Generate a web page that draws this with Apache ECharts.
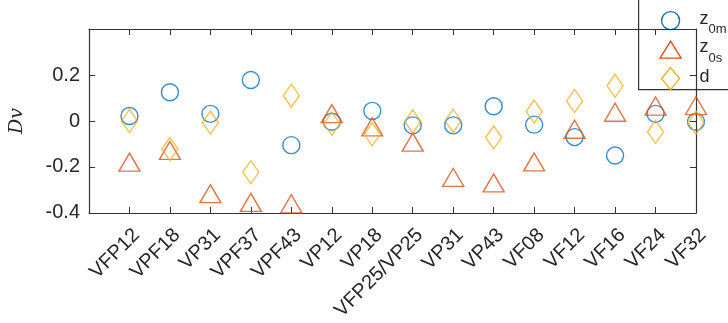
<!DOCTYPE html>
<html>
<head>
<meta charset="utf-8">
<script src="https://cdn.jsdelivr.net/npm/echarts@6/dist/echarts.min.js"></script>
<style>
  html, body { margin: 0; padding: 0; background: #fff; }
  #chart { width: 728px; height: 323px; }
</style>
</head>
<body>
<div id="chart"></div>
<script>
// Station / profile labels along the x axis (positions 1..15)
const categories = ['VFP12', 'VPF18', 'VP31', 'VPF37', 'VPF43', 'VP12', 'VP18',
  'VFP25/VP25', 'VP31', 'VP43', 'VF08', 'VF12', 'VF16', 'VF24', 'VF32'];

// Dv for each parameter
const z0m = [0.022, 0.125, 0.031, 0.178, -0.105, -0.003, 0.044, -0.019, -0.019,
  0.064, -0.016, -0.070, -0.150, 0.031, -0.003];
const z0s = [-0.179, -0.128, -0.316, -0.354, -0.360, 0.032, -0.026, -0.092, -0.245,
  -0.269, -0.178, -0.036, 0.038, 0.065, 0.067];
const dVals = [0.000, -0.122, -0.007, -0.223, 0.110, -0.012, -0.058, -0.002, 0.001,
  -0.071, 0.041, 0.087, 0.153, -0.047, -0.007];

const yTicks = [-0.4, -0.2, 0, 0.2];

const AX = '#333333';
const TXT = '#262626';
const FONT = '"Liberation Sans", Arial, sans-serif';

const toPoints = vals => vals.map((v, i) => [i + 1, v]);

const chart = echarts.init(document.getElementById('chart'), null, { renderer: 'canvas' });

const hollow = color => ({ color: 'rgba(0,0,0,0)', borderColor: color, borderWidth: 1.4 });

// boxed frame: every side gets an inward-ticked axis line
const frameAxis = {
  axisLine: { show: true, onZero: false, lineStyle: { color: AX, width: 1.2 } },
  axisTick: { show: true, inside: true, length: 6, lineStyle: { color: AX } },
  splitLine: { show: false }
};

chart.setOption({
  animation: false,
  grid: { left: 77, right: 32, top: 29, bottom: 110, containLabel: false },
  xAxis: [
    Object.assign({
      type: 'value', position: 'bottom', min: 0, max: 15, interval: 1,
      axisLabel: {
        rotate: 45, margin: 12, fontSize: 20, color: TXT, fontFamily: FONT,
        align: 'right', verticalAlign: 'top',
        showMinLabel: false,
        formatter: v => (v >= 1 && v <= categories.length) ? categories[v - 1] : ''
      }
    }, frameAxis),
    Object.assign({
      type: 'value', position: 'top', min: 0, max: 15, interval: 1,
      axisLabel: { show: false }
    }, frameAxis)
  ],
  yAxis: [
    Object.assign({
      type: 'value', position: 'left', min: -0.4, max: 0.4, interval: 0.2,
      axisLabel: {
        fontSize: 20, color: TXT, fontFamily: FONT, margin: 9,
        showMaxLabel: false,
        formatter: v => (yTicks.some(t => Math.abs(t - v) < 1e-9)) ? String(+v.toFixed(1)) : ''
      },
      name: 'Dv',
      nameLocation: 'middle',
      nameGap: 62,
      nameRotate: 90,
      nameTextStyle: { fontFamily: '"DejaVu Serif", "Liberation Serif", serif', fontStyle: 'italic', fontSize: 19, color: TXT }
    }, frameAxis),
    Object.assign({
      type: 'value', position: 'right', min: -0.4, max: 0.4, interval: 0.2,
      axisLabel: { show: false }
    }, frameAxis)
  ],
  series: [
    {
      name: 'z0m', type: 'scatter', symbol: 'circle', symbolSize: 17,
      data: toPoints(z0m), itemStyle: hollow('#0072BD')
    },
    {
      name: 'z0s', type: 'scatter', symbol: 'triangle', symbolSize: [21, 18],
      data: toPoints(z0s), itemStyle: hollow('#D95319')
    },
    {
      name: 'd', type: 'scatter', symbol: 'diamond', symbolSize: [16, 23],
      data: toPoints(dVals), itemStyle: hollow('#EDB120')
    }
  ],
  graphic: [
    {
      type: 'group', left: 638, top: -6,
      children: [
        { type: 'rect', shape: { x: 0, y: 0, width: 110, height: 95 },
          style: { fill: '#fff', stroke: AX, lineWidth: 1.2 } },
        { type: 'circle', shape: { cx: 32, cy: 26, r: 9 },
          style: { fill: 'none', stroke: '#0072BD', lineWidth: 1.4 } },
        { type: 'polygon', shape: { points: [[32, 46.5], [21.5, 63.5], [42.5, 63.5]] },
          style: { fill: 'none', stroke: '#D95319', lineWidth: 1.4 } },
        { type: 'polygon', shape: { points: [[32, 73], [41, 84], [32, 95], [23, 84]] },
          style: { fill: 'none', stroke: '#EDB120', lineWidth: 1.4 } },
        { type: 'text', x: 61, y: 24.8, style: { text: 'z', font: '18px ' + FONT, fill: TXT, verticalAlign: 'middle' } },
        { type: 'text', x: 70, y: 34.5, style: { text: '0m', font: '13px ' + FONT, fill: TXT, verticalAlign: 'middle' } },
        { type: 'text', x: 61, y: 52.8, style: { text: 'z', font: '18px ' + FONT, fill: TXT, verticalAlign: 'middle' } },
        { type: 'text', x: 70, y: 63.5, style: { text: '0s', font: '13px ' + FONT, fill: TXT, verticalAlign: 'middle' } },
        { type: 'text', x: 61, y: 82.8, style: { text: 'd', font: '18px ' + FONT, fill: TXT, verticalAlign: 'middle' } }
      ]
    }
  ]
});
</script>
</body>
</html>
